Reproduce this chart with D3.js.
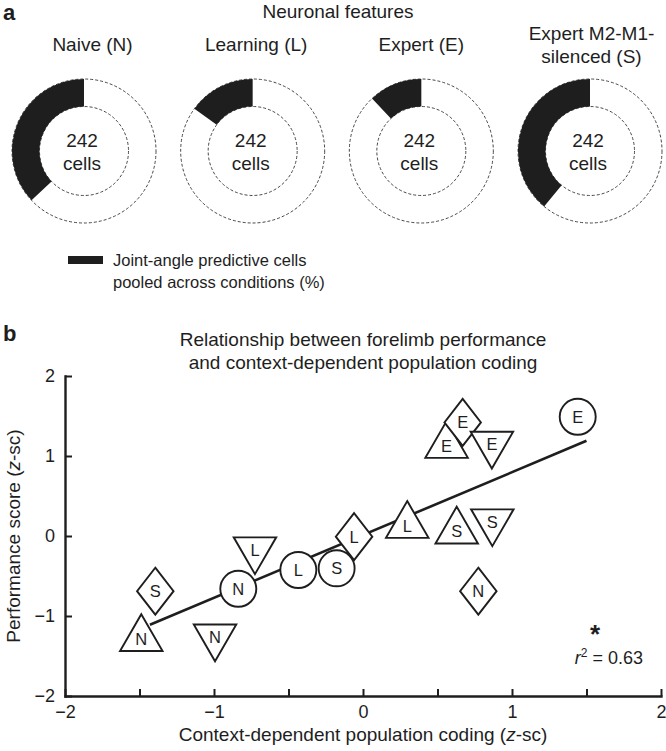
<!DOCTYPE html>
<html>
<head>
<meta charset="utf-8">
<script src="https://cdn.jsdelivr.net/npm/d3@7"></script>
<style>
  html, body { margin: 0; padding: 0; background: #fff; }
  svg { display: block; }
  text { font-family: "Liberation Sans", Arial, Helvetica, sans-serif; fill: #1e1e1e; }
</style>
</head>
<body>
<svg id="chart" width="666" height="751"></svg>
<script>
// ---------------- DATA ----------------
// Panel a: donuts
const donutTitles = [["Naive (N)"], ["Learning (L)"], ["Expert (E)"], ["Expert M2-M1-", "silenced (S)"]];
const donutPercent = [37, 15, 12, 39];          // joint-angle predictive cells (%)
const donutCells = [242, 242, 242, 242];
const panelATitle = "Neuronal features";
const legendLines = ["Joint-angle predictive cells", "pooled across conditions (%)"];

// Panel b: scatter points (drawing order)
const pointLabel = ["N", "L", "S", "E",  "N", "L", "S", "E",  "S", "L", "N", "E",  "L", "N", "S", "E"];
const pointShape = ["circle", "circle", "circle", "circle",
                    "up", "up", "up", "up",
                    "diamond", "diamond", "diamond", "diamond",
                    "down", "down", "down", "down"];
const pointX = [-0.837, -0.434, -0.177, 1.441,  -1.488, 0.297, 0.629, 0.561,  -1.394, -0.06, 0.774, 0.669,  -0.725, -0.993, 0.868, 0.865];
const pointY = [-0.66, -0.425, -0.404, 1.49,    -1.285, 0.13, 0.06, 1.13,     -0.69, -0.008, -0.69, 1.42,    -0.17, -1.26, 0.18, 1.15];
// regression line endpoints
const fitX = [-1.43, 1.50];
const fitY = [-1.11, 1.19];
const xTicks = [-2, -1.5, -1, -0.5, 0, 0.5, 1, 1.5, 2];
const yTicks = [-2, -1, 0, 1, 2];
const rSquared = "0.63";
const panelBTitle = ["Relationship between forelimb performance", "and context-dependent population coding"];

// ---------------- DRAW ----------------
const svg = d3.select("#chart");
const ink = "#1e1e1e";

// panel letters
svg.append("text").attr("x", 3).attr("y", 20).attr("font-size", 22).attr("font-weight", "bold").text("a");
svg.append("text").attr("x", 3).attr("y", 341).attr("font-size", 22).attr("font-weight", "bold").text("b");

// ---- Panel a ----
svg.append("text").attr("x", 338).attr("y", 18).attr("text-anchor", "middle")
  .attr("font-size", 19).text(panelATitle);

const donutX = d3.scalePoint().domain(d3.range(donutPercent.length)).range([84, 590]);
const titleShift = [8.5, 3.5, 0, 1.5];
const rOuter = 72, rInner = 44.5, cy = 151;
const arc = d3.arc().innerRadius(rInner).outerRadius(rOuter);

donutPercent.forEach((p, i) => {
  const g = svg.append("g").attr("transform", `translate(${donutX(i)},${cy})`);
  g.append("circle").attr("r", rOuter).attr("fill", "none").attr("stroke", "#333")
    .attr("stroke-width", 0.9).attr("stroke-dasharray", "3,2");
  g.append("circle").attr("r", rInner).attr("fill", "none").attr("stroke", "#333")
    .attr("stroke-width", 0.9).attr("stroke-dasharray", "3,2");
  g.append("path").attr("d", arc({startAngle: -2 * Math.PI * p / 100, endAngle: 0})).attr("fill", ink);
  g.append("text").attr("x", -2).attr("y", -4.5).attr("text-anchor", "middle").attr("font-size", 19).text(donutCells[i]);
  g.append("text").attr("x", -2).attr("y", 18.5).attr("text-anchor", "middle").attr("font-size", 19).text("cells");
  const lines = donutTitles[i];
  const baseY = lines.length === 1 ? 51 : 40;
  lines.forEach((t, k) => {
    svg.append("text").attr("x", donutX(i) + titleShift[i]).attr("y", baseY + k * 23)
      .attr("text-anchor", "middle").attr("font-size", 19).text(t);
  });
});

// legend
svg.append("rect").attr("x", 68).attr("y", 256).attr("width", 35).attr("height", 8).attr("fill", ink);
legendLines.forEach((t, k) => {
  svg.append("text").attr("x", 113).attr("y", 265.5 + k * 22).attr("font-size", 16.5).text(t);
});

// ---- Panel b ----
panelBTitle.forEach((t, k) => {
  svg.append("text").attr("x", 363).attr("y", 346 + k * 23).attr("text-anchor", "middle")
    .attr("font-size", 19).text(t);
});

const x = d3.scaleLinear().domain([-2, 2]).range([65, 661]);
const y = d3.scaleLinear().domain([-2, 2]).range([696, 376]);

const fmt = v => Number.isInteger(v) ? (v < 0 ? "\u2212" + Math.abs(v) : String(v)) : "";

const xAxis = svg.append("g").attr("transform", `translate(0,${y(-2)})`)
  .call(d3.axisBottom(x).tickValues(xTicks).tickFormat(fmt).tickSize(-7).tickSizeOuter(0).tickPadding(9));
const yAxis = svg.append("g").attr("transform", `translate(${x(-2)},0)`)
  .call(d3.axisLeft(y).tickValues(yTicks).tickFormat(fmt).tickSize(-7).tickSizeOuter(0).tickPadding(10));
[xAxis, yAxis].forEach(a => {
  a.select(".domain").attr("stroke", ink).attr("stroke-width", 2.4).attr("stroke-linecap", "square");
  a.selectAll(".tick line").attr("stroke", ink).attr("stroke-width", 2);
  a.selectAll(".tick text").attr("font-size", 18).attr("fill", ink)
    .attr("font-family", '"Liberation Sans", Arial, Helvetica, sans-serif');
});

// axis labels
const xl = svg.append("text").attr("x", 363).attr("y", 741).attr("text-anchor", "middle").attr("font-size", 19);
xl.append("tspan").text("Context-dependent population coding (");
xl.append("tspan").attr("font-style", "italic").text("z");
xl.append("tspan").text("-sc)");

const yl = svg.append("text").attr("transform", `translate(20,${y(0)}) rotate(-90)`)
  .attr("text-anchor", "middle").attr("font-size", 19);
yl.append("tspan").text("Performance score (");
yl.append("tspan").attr("font-style", "italic").text("z");
yl.append("tspan").text("-sc)");

// regression line
svg.append("path")
  .attr("d", d3.line().x(d => x(d[0])).y(d => y(d[1]))(d3.zip(fitX, fitY)))
  .attr("stroke", ink).attr("stroke-width", 2.6).attr("fill", "none");

// markers
const triW = 42.5, triH = triW * Math.sqrt(3) / 2;
const diaW = 36.5, diaH = 47;
const circR = 18;
function shapePath(s) {
  if (s === "up") {
    return d3.line()([[0, -2 * triH / 3], [triW / 2, triH / 3], [-triW / 2, triH / 3]]) + "Z";
  }
  if (s === "down") {
    return d3.line()([[0, 2 * triH / 3], [triW / 2, -triH / 3], [-triW / 2, -triH / 3]]) + "Z";
  }
  if (s === "diamond") {
    return d3.line()([[0, -diaH / 2], [diaW / 2, 0], [0, diaH / 2], [-diaW / 2, 0]]) + "Z";
  }
  return null;
}
const pts = d3.range(pointX.length).map(i => ({x: pointX[i], y: pointY[i], s: pointShape[i], l: pointLabel[i]}));
const mk = svg.append("g").selectAll("g").data(pts).join("g")
  .attr("transform", d => `translate(${x(d.x)},${y(d.y)})`);
mk.each(function(d) {
  const g = d3.select(this);
  if (d.s === "circle") {
    g.append("circle").attr("r", circR).attr("fill", "#fff").attr("stroke", ink).attr("stroke-width", 1.9);
  } else {
    g.append("path").attr("d", shapePath(d.s)).attr("fill", "#fff").attr("stroke", ink)
      .attr("stroke-width", 1.9).attr("stroke-linejoin", "miter");
  }
  g.append("text").attr("text-anchor", "middle").attr("dy", "0.36em").attr("font-size", 16.5).text(d.l);
});

// r^2 annotation
svg.append("text").attr("x", 595).attr("y", 643).attr("text-anchor", "middle").attr("font-size", 26)
  .attr("font-weight", "bold").text("*");
const rt = svg.append("text").attr("x", 643).attr("y", 664).attr("text-anchor", "end").attr("font-size", 18);
rt.append("tspan").attr("font-style", "italic").text("r");
rt.append("tspan").attr("dy", -7).attr("font-size", 12).text("2");
rt.append("tspan").attr("dy", 7).text(" = " + rSquared);
</script>
</body>
</html>
